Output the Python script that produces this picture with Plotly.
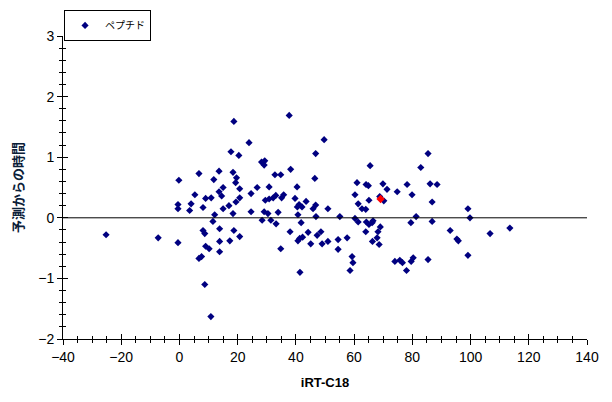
import plotly.graph_objects as go

# iRT-C18 値と予測からの時間 (ペプチド)
irt = [
    -25.2, -7.3, -0.5, -0.2, -0.5, -0.5, 3.5, 4.0, 5.3, 6.7,
    8.1, 9.0, 10.9, 12.1, 11.8, 13.6, 15.0, 13.6, 14.5, 15.0,
    17.0, 18.4, 19.4, 18.7, 17.7, 20.4, 18.4, 19.6, 19.3, 20.7,
    20.7, 11.5, 8.1, 8.7, 13.8, 18.7, 20.7, 17.3, 13.8, 9.0,
    10.2, 13.8, 7.6, 6.7, 8.7, 10.8,
    37.7, 23.9, 49.7, 46.8, 29.3, 28.2, 29.1, 38.2, 32.8, 34.8,
    46.5, 26.7, 30.8, 40.4, 24.6, 29.5, 30.8, 32.2, 33.1, 35.1,
    35.8, 39.7, 43.5, 41.1, 40.5, 42.1, 45.9, 46.8, 51.0, 24.6,
    29.1, 30.4, 33.9, 40.7, 46.9, 55.1, 28.4, 31.4, 33.2, 41.8,
    38.0, 44.2, 48.6, 47.3, 42.3, 41.3, 40.7, 45.1, 49.0, 51.0,
    54.5, 57.6, 34.8, 54.5, 41.4, 59.3, 59.6, 58.6, 60.3, 61.0,
    61.4, 62.7, 64.0, 60.3, 61.4, 65.5, 64.1, 64.9, 65.1, 69.9,
    71.3, 74.8, 78.2, 68.8, 70.2, 64.2, 65.1, 66.2, 66.5, 69.0,
    68.2, 64.0, 67.9, 66.3, 68.6, 74.0, 75.7, 76.6, 78.0,
    85.4, 82.9, 86.1, 88.5, 86.8, 81.3, 79.5, 86.8, 99.1, 99.8,
    93.0, 95.3, 95.8, 106.7, 113.5, 99.1, 85.4, 80.3, 79.6, 79.9,
]
diff = [
    -0.28, -0.33, -0.41, 0.62, 0.22, 0.15, 0.12, 0.23, 0.38, 0.73,
    0.17, 0.32, 0.33, 0.05, 0.63, 0.77, 0.50, 0.43, 0.36, 0.15,
    0.20, 0.07, 0.26, 1.59, 1.09, 1.03, 0.75, 0.66, 0.58, 0.48,
    0.33, -0.06, -0.21, -0.26, -0.18, -0.21, -0.31, -0.38, -0.39, -0.47,
    -0.51, -0.56, -0.64, -0.67, -1.10, -1.63,
    1.69, 1.24, 1.29, 1.06, 0.94, 0.92, 0.87, 0.80, 0.71, 0.71,
    0.65, 0.50, 0.51, 0.51, 0.40, 0.29, 0.31, 0.33, 0.37, 0.33,
    0.38, 0.32, 0.27, 0.22, 0.18, 0.18, 0.15, 0.21, 0.15, 0.10,
    0.10, 0.07, 0.09, 0.05, 0.02, 0.02, -0.04, -0.04, -0.10, -0.08,
    -0.23, -0.24, -0.23, -0.29, -0.32, -0.34, -0.38, -0.43, -0.43, -0.39,
    -0.36, -0.33, -0.51, -0.52, -0.90, -0.64, -0.74, -0.87, 0.38, 0.58,
    0.23, 0.15, 0.14, -0.01, -0.07, 0.86, 0.55, 0.53, 0.29, 0.56,
    0.47, 0.43, 0.55, 0.35, 0.28, -0.07, -0.11, -0.08, -0.05, -0.15,
    -0.23, -0.23, -0.33, -0.39, -0.44, -0.72, -0.70, -0.74, -0.87,
    1.06, 0.83, 0.56, 0.55, 0.26, 0.02, -0.08, -0.06, 0.15, 0.00,
    -0.21, -0.35, -0.38, -0.26, -0.17, -0.62, -0.69, -0.66, -0.72, 0.38,
]

# 強調表示する1点
sel_irt = [69.1]
sel_diff = [0.31]

x_range = [-40, 140]
y_range = [-2, 3]

fig = go.Figure()

fig.add_trace(
    go.Scatter(
        x=irt,
        y=diff,
        mode="markers",
        name="ペプチド",
        marker_symbol="diamond",
        marker_color="#000080",
        marker_size=5.5,
    )
)

fig.add_trace(
    go.Scatter(
        x=sel_irt,
        y=sel_diff,
        mode="markers",
        showlegend=False,
        marker_symbol="diamond",
        marker_color="#FF0000",
        marker_size=6.5,
    )
)

# 内側の目盛り用のダミー
fig.add_trace(
    go.Scatter(x=[None], y=[None], xaxis="x2", yaxis="y2", showlegend=False)
)

# ゼロ線
fig.add_shape(
    type="line",
    x0=x_range[0],
    x1=x_range[1],
    y0=0,
    y1=0,
    line_color="black",
    line_width=1,
)

axis_common = dict(
    showgrid=False,
    zeroline=False,
    showline=True,
    linecolor="black",
    linewidth=1,
    tickcolor="black",
    tickwidth=1,
    automargin=False,
    tickfont=dict(family="Arial, Liberation Sans", size=14, color="black"),
)

inner_common = dict(
    showticklabels=False,
    showgrid=False,
    zeroline=False,
    automargin=False,
    tickcolor="black",
    ticks="inside",
    ticklen=5,
)

# ページの余白 (8px) を考慮して少し小さめに
fig.update_layout(
    width=604,
    height=394,
    plot_bgcolor="white",
    paper_bgcolor="white",
    margin=dict(l=55, r=25, t=28, b=63, autoexpand=False),
    font_family="Arial, Liberation Sans",
    xaxis=dict(
        range=x_range,
        dtick=20,
        ticks="outside",
        ticklen=5,
        minor=dict(dtick=5, ticks="outside", ticklen=3, tickcolor="black"),
        title=dict(
            text="<b>iRT-C18</b>",
            font=dict(size=13, color="black"),
            standoff=14,
        ),
        **axis_common,
    ),
    yaxis=dict(
        range=y_range,
        dtick=1,
        ticks="outside",
        ticklen=5,
        minor=dict(dtick=0.2, ticks="outside", ticklen=3, tickcolor="black"),
        title=dict(
            text="<b>予測からの時間</b>",
            font=dict(family="Noto Sans CJK JP", size=13, color="#0b2038"),
            standoff=16,
        ),
        **axis_common,
    ),
    xaxis2=dict(
        range=x_range,
        overlaying="x",
        anchor="y",
        side="bottom",
        dtick=20,
        minor=dict(dtick=5, ticks="inside", ticklen=3, tickcolor="black"),
        **inner_common,
    ),
    yaxis2=dict(
        range=y_range,
        overlaying="y",
        anchor="x",
        side="left",
        dtick=1,
        minor=dict(dtick=0.2, ticks="inside", ticklen=3, tickcolor="black"),
        **inner_common,
    ),
    showlegend=True,
    legend=dict(
        x=0.002,
        y=1.086,
        xanchor="left",
        yanchor="top",
        bordercolor="black",
        borderwidth=1,
        bgcolor="white",
        font=dict(family="Noto Sans CJK JP", size=10, color="black"),
        itemwidth=30,
        tracegroupgap=0,
    ),
)

fig.write_html("out.html")
